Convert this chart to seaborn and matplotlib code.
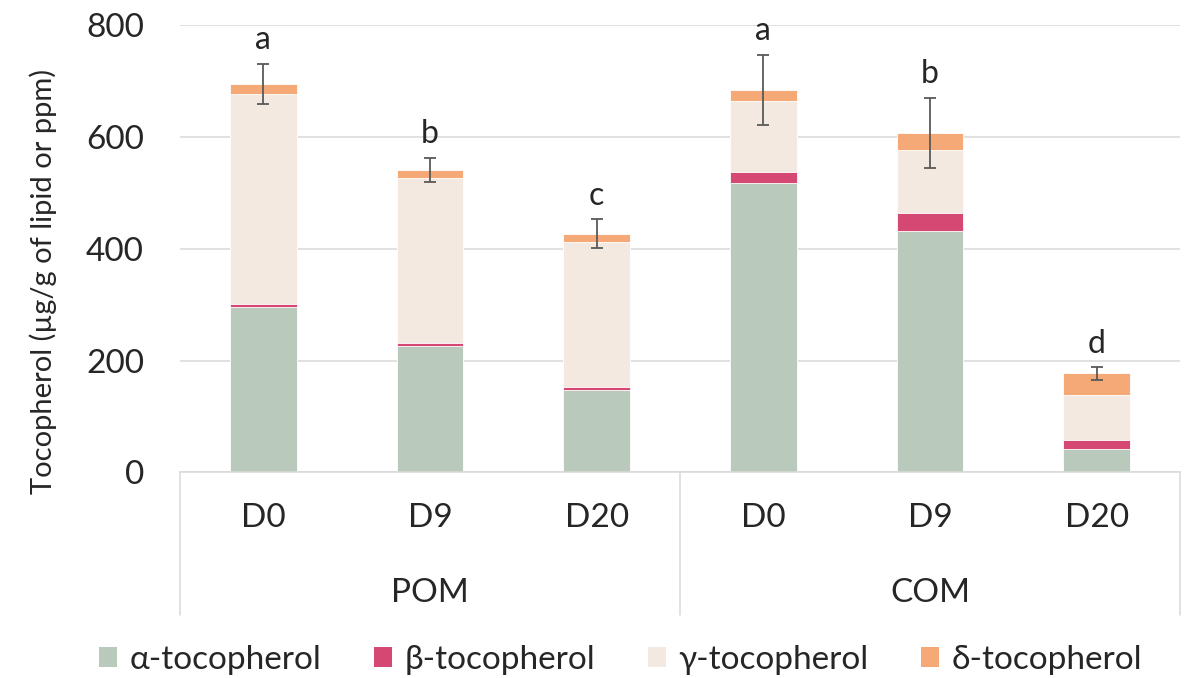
import pandas as pd
import numpy as np
import matplotlib.pyplot as plt
import seaborn as sns
from matplotlib.patches import Patch

# values
oils = ["POM", "POM", "POM", "COM", "COM", "COM"]
days = ["D0", "D9", "D20", "D0", "D9", "D20"]
alpha = [295, 226, 148, 518, 432, 42]
beta = [6, 5, 5, 19, 32, 16]
gamma = [376, 296, 259, 128, 112, 80]
delta = [18, 14, 15, 19, 31, 39]
errors = [36, 22, 26, 63, 63, 11]
letters = ["a", "b", "c", "a", "b", "d"]

series_names = ["α-tocopherol", "β-tocopherol", "γ-tocopherol", "δ-tocopherol"]
colors = ["#B9C9BB", "#D54873", "#F3E9E1", "#F4A977"]

df = pd.DataFrame({"oil": oils, "day": days, "alpha": alpha, "beta": beta,
                   "gamma": gamma, "delta": delta})
df["sample"] = df["oil"] + " " + df["day"]
cols = ["alpha", "beta", "gamma", "delta"]
cum = df[cols].cumsum(axis=1)
for c in cols:
    df["cum_" + c] = cum[c]
order = list(df["sample"])

sns.set_style("white")
plt.rcParams['font.family'] = ['Lato', 'DejaVu Sans']

fig = plt.figure(figsize=(11.85, 6.78), dpi=100)
ax = fig.add_axes([0.1519, 0.3031, 0.8439, 0.66])

# stacked bars: draw the cumulative totals from the top layer down
for c, col in reversed(list(zip(cols, colors))):
    sns.barplot(data=df, x="sample", y="cum_" + c, order=order, color=col,
                saturation=1, width=0.4, errorbar=None, ax=ax,
                edgecolor="white", linewidth=0.6, zorder=2)

totals = df["cum_delta"].values
xpos = np.arange(len(order))
ax.errorbar(xpos, totals, yerr=errors, fmt="none", ecolor="#595959",
            elinewidth=1.3, capsize=4.3, capthick=1.3, zorder=3)

for x, t, e, lab in zip(xpos, totals, errors, letters):
    ax.annotate(lab, (x, t + e), xytext=(0, 6), textcoords="offset points",
                ha="center", va="bottom", fontsize=23)

ax.set_ylim(0, 800)
ax.set_xlim(-0.5, len(order) - 0.5)
ax.set_yticks([0, 200, 400, 600, 800])
ax.yaxis.grid(True, color="#D9D9D9", linewidth=1.1, zorder=0)
ax.set_axisbelow(True)
for s in ["top", "right", "left"]:
    ax.spines[s].set_visible(False)
ax.spines["bottom"].set_color("#D9D9D9")
ax.spines["bottom"].set_linewidth(1.1)
ax.tick_params(axis="y", length=0, labelsize=24, pad=26)
ax.tick_params(axis="x", length=0, labelsize=24, pad=22)
ax.set_xticks(xpos)
ax.set_xticklabels(days)
ax.set_xlabel("")
ax.set_ylabel("Tocopherol (µg/g of lipid or ppm)", fontsize=21)
ax.yaxis.set_label_coords(-0.123, 0.428)

# group labels and separators under the axis
group_names = ["POM", "COM"]
depth = (615 - 472.5) / (0.66 * 678)
for k in range(len(group_names) + 1):
    ax.plot([k / 2, k / 2], [0, -depth], transform=ax.transAxes,
            color="#D9D9D9", linewidth=1.1, clip_on=False)
for k, g in enumerate(group_names):
    ax.text(k / 2 + 0.25, -(593 - 472.5) / (0.66 * 678), g,
            transform=ax.transAxes, ha="center", va="center", fontsize=24)

handles = [Patch(facecolor=c, edgecolor="none") for c in colors]
fig.legend(handles, series_names, loc="center", bbox_to_anchor=(0.5236, 1 - 660 / 678),
           ncol=4, frameon=False, fontsize=24, handlelength=0.55, handleheight=0.55,
           handletextpad=0.36, columnspacing=1.58)

fig.savefig("out.png", dpi=100)
